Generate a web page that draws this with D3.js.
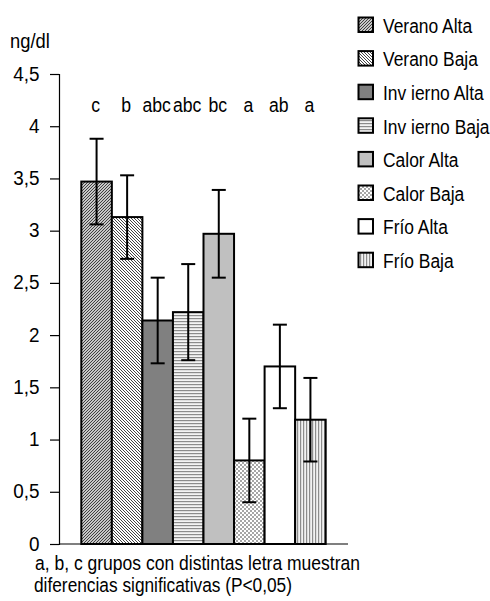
<!DOCTYPE html>
<html>
<head>
<meta charset="utf-8">
<script src="https://cdn.jsdelivr.net/npm/d3@7"></script>
<style>
  html, body { margin: 0; padding: 0; background: #fff; }
  svg { display: block; font-family: "Liberation Sans", Arial, sans-serif; }
</style>
</head>
<body>
<svg id="chart" width="490" height="601"></svg>
<script>
// Concentración media (ng/dl) por grupo, con su error
const groups = ["Verano Alta", "Verano Baja", "Invierno Alta", "Invierno Baja",
                "Calor Alta", "Calor Baja", "Frío Alta", "Frío Baja"];
const legendLabels = ["Verano Alta", "Verano Baja", "Inv ierno Alta", "Inv ierno Baja",
                      "Calor Alta", "Calor Baja", "Frío Alta", "Frío Baja"];
const means = [3.47, 3.13, 2.14, 2.22, 2.97, 0.80, 1.70, 1.19];
const errors = [0.41, 0.40, 0.41, 0.46, 0.42, 0.40, 0.40, 0.40];
const letters = ["c", "b", "abc", "abc", "bc", "a", "ab", "a"];
const yTicks = [0, 0.5, 1, 1.5, 2, 2.5, 3, 3.5, 4, 4.5];
const yTickLabels = ["0", "0,5", "1", "1,5", "2", "2,5", "3", "3,5", "4", "4,5"];
const unitLabel = "ng/dl";
const footnote = ["a, b, c grupos con distintas letra muestran",
                  "diferencias significativas (P<0,05)"];

const svg = d3.select("#chart");
const defs = svg.append("defs");

// Fill patterns for each group
function pattern(id, w, h, bg, draw) {
  const p = defs.append("pattern").attr("id", id)
    .attr("patternUnits", "userSpaceOnUse").attr("width", w).attr("height", h);
  p.append("rect").attr("width", w).attr("height", h).attr("fill", bg);
  draw(p);
  return `url(#${id})`;
}
const fills = [
  pattern("p-up", 3, 3, "#fff", p => {
    p.append("path").attr("d", "M-1,1 L1,-1 M0,3 L3,0 M2,4 L4,2")
      .attr("stroke", "#333").attr("stroke-width", 1.05);
  }),
  pattern("p-down", 3, 3, "#fff", p => {
    p.append("path").attr("d", "M-1,2 L1,4 M0,0 L3,3 M2,-1 L4,1")
      .attr("stroke", "#444").attr("stroke-width", 1);
  }),
  "#808080",
  pattern("p-hor", 3, 3, "#f4f4f4", p => {
    p.append("rect").attr("y", 0).attr("width", 3).attr("height", 1.2).attr("fill", "#8c8c8c");
  }),
  "#c0c0c0",
  pattern("p-dot", 4, 4, "#fff", p => {
    p.append("rect").attr("width", 2).attr("height", 2).attr("fill", "#a6a6a6");
    p.append("rect").attr("x", 2).attr("y", 2).attr("width", 2).attr("height", 2).attr("fill", "#a6a6a6");
  }),
  "#ffffff",
  pattern("p-ver", 3, 3, "#f2f2f2", p => {
    p.append("rect").attr("x", 0).attr("width", 1.2).attr("height", 3).attr("fill", "#8c8c8c");
  })
];

// Text helper: horizontally condensed glyphs
function label(parent, x, y, str, size, anchor, sx) {
  return parent.append("text")
    .attr("transform", `translate(${x},${y}) scale(${sx},1)`)
    .attr("text-anchor", anchor)
    .attr("font-size", size)
    .attr("fill", "#000")
    .text(str);
}

const plotLeft = 59, plotRight = 348, plotTop = 74, plotBottom = 544;

const y = d3.scaleLinear().domain([0, 4.5]).range([plotBottom, plotTop]);
const x = d3.scaleBand().domain(groups).range([plotLeft, plotRight])
  .paddingInner(0).paddingOuter(0.73);

// Y axis
const yAxis = d3.axisLeft(y).tickValues(yTicks).tickSize(9).tickFormat(() => "");
const ya = svg.append("g").attr("transform", `translate(${plotLeft},0)`).call(yAxis);
ya.select(".domain").attr("stroke", "#000").attr("stroke-width", 1.2);
ya.selectAll(".tick line").attr("stroke", "#000").attr("stroke-width", 1.2);
yTicks.forEach((t, i) => label(svg, 39.5, y(t) + 6.5, yTickLabels[i], 21, "end", 0.9));

// X axis baseline
svg.append("line")
  .attr("x1", plotLeft).attr("x2", plotRight)
  .attr("y1", y(0)).attr("y2", y(0))
  .attr("stroke", "#000").attr("stroke-width", 1.2);

// Bars
svg.append("g").selectAll("rect").data(groups).join("rect")
  .attr("x", d => x(d))
  .attr("y", (d, i) => y(means[i]))
  .attr("width", x.bandwidth())
  .attr("height", (d, i) => y(0) - y(means[i]))
  .attr("fill", (d, i) => fills[i])
  .attr("stroke", "#000").attr("stroke-width", 2);

// Error bars
const eb = svg.append("g").attr("stroke", "#000").attr("stroke-width", 2);
groups.forEach((g, i) => {
  const cx = x(g) + x.bandwidth() / 2;
  const hi = y(means[i] + errors[i]), lo = y(means[i] - errors[i]);
  eb.append("line").attr("x1", cx).attr("x2", cx).attr("y1", hi).attr("y2", lo);
  eb.append("line").attr("x1", cx - 7).attr("x2", cx + 7).attr("y1", hi).attr("y2", hi);
  eb.append("line").attr("x1", cx - 7).attr("x2", cx + 7).attr("y1", lo).attr("y2", lo);
});

// Significance letters
groups.forEach((g, i) => {
  label(svg, x(g) + x.bandwidth() / 2 - 1, 112, letters[i], 21, "middle", 0.84);
});

// Unit label
label(svg, 10, 48, unitLabel, 20, "start", 0.92);

// Legend
const lg = svg.append("g");
legendLabels.forEach((name, i) => {
  const cy = 25 + 33.6 * i;
  lg.append("rect").attr("x", 358.5).attr("y", cy - 7.5)
    .attr("width", 14.5).attr("height", 14.5)
    .attr("fill", fills[i]).attr("stroke", "#000").attr("stroke-width", 2);
  label(lg, 383, cy + 7.8, name, 21, "start", 0.83);
});

// Footnote
svg.append("text").attr("x", 35).attr("y", 570).attr("font-size", 20.5)
  .attr("textLength", 325).attr("lengthAdjust", "spacingAndGlyphs").text(footnote[0]);
svg.append("text").attr("x", 34).attr("y", 591.5).attr("font-size", 20.5)
  .attr("textLength", 258).attr("lengthAdjust", "spacingAndGlyphs").text(footnote[1]);
</script>
</body>
</html>
